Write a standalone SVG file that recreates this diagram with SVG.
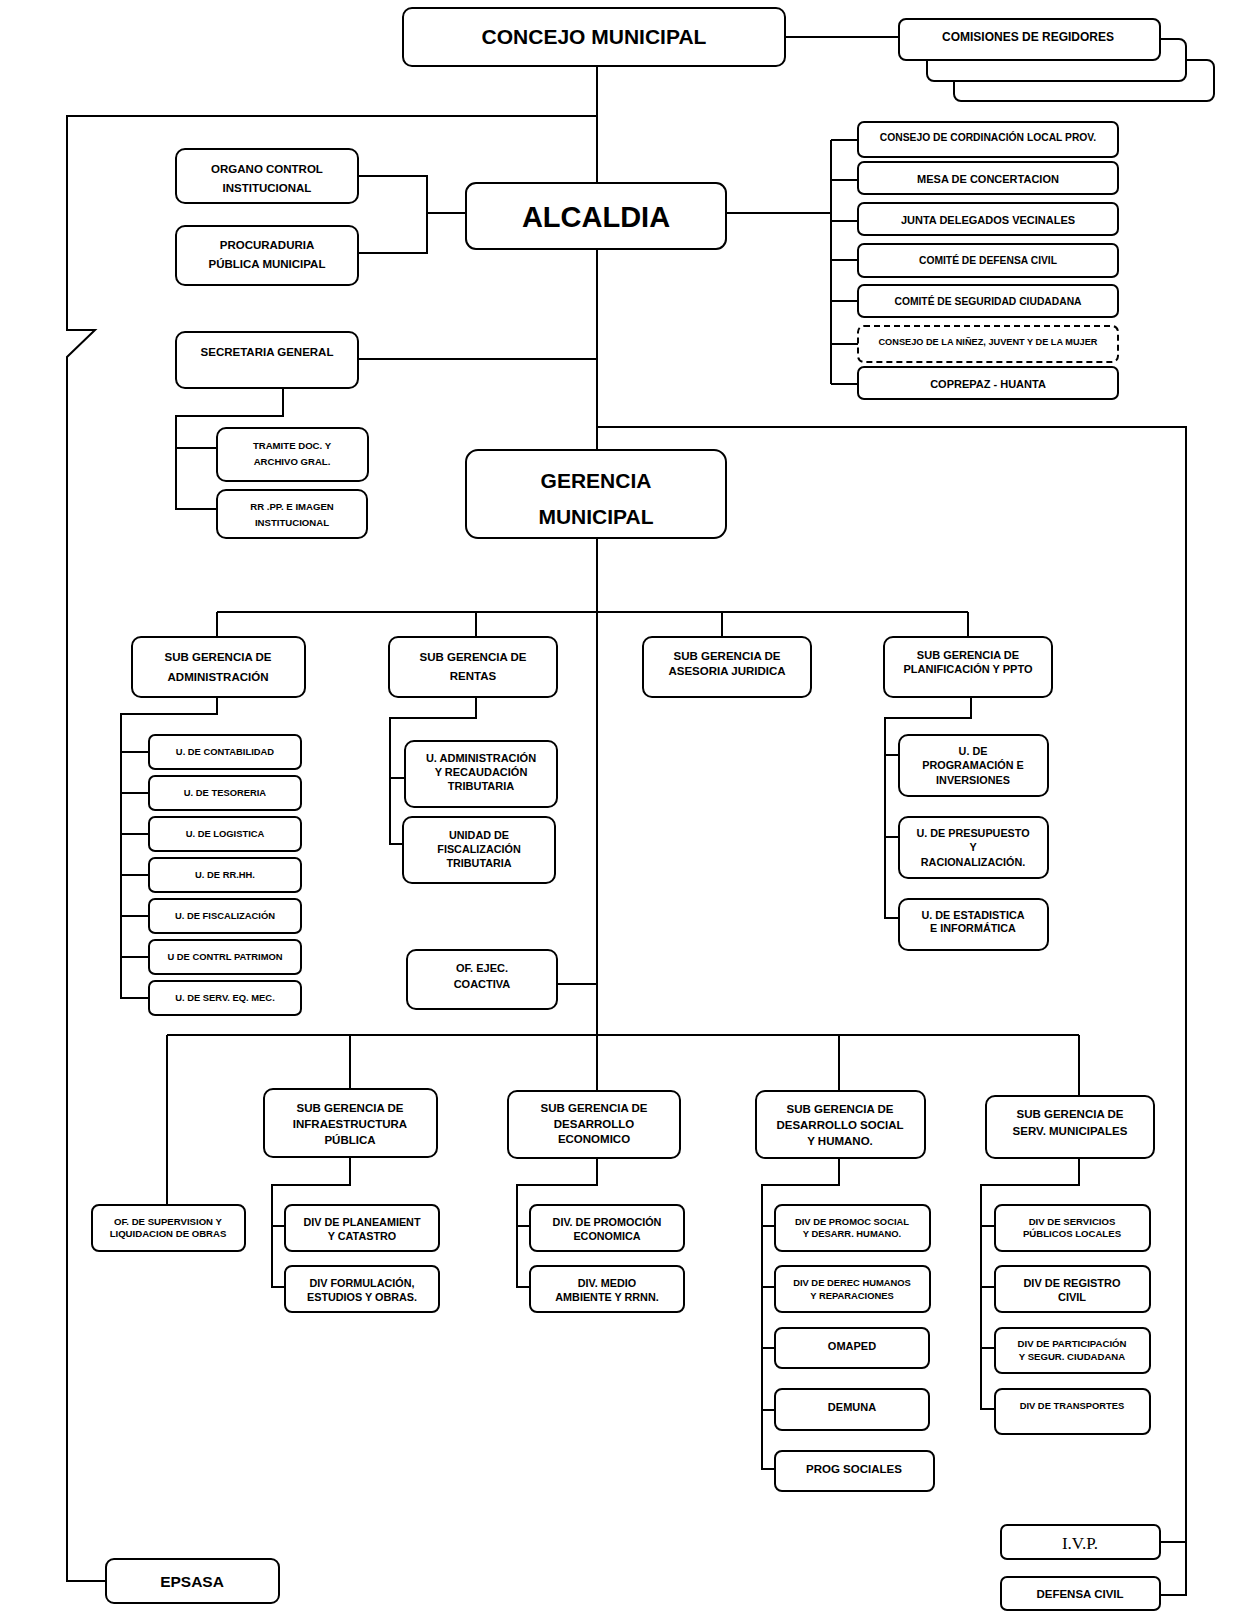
<svg xmlns="http://www.w3.org/2000/svg" width="1237" height="1614" viewBox="0 0 1237 1614">
<style>
rect{fill:#fff;stroke:#000;stroke-width:2}
.dash{stroke-dasharray:6 4}
#connectors path{fill:none;stroke:#000;stroke-width:2}
text{font-family:"Liberation Sans",Arial,sans-serif;font-weight:bold;text-anchor:middle;fill:#000}
.f21{font-size:21px}.f29{font-size:29px}.f22{font-size:21px}.f17{font-size:15.5px}
.f12{font-size:11.5px}.f11{font-size:11px}.f10{font-size:10.8px}.f9{font-size:9.6px}.f8{font-size:9.4px}
.r11{font-size:11px}.r12{font-size:12px}.r105{font-size:10.3px}.r92{font-size:9.2px}
.serif{font-family:"Liberation Serif","Times New Roman",serif;font-weight:normal;font-size:17px}
</style>
<rect x="0" y="0" width="1237" height="1614" style="stroke:none"/>
<g id="connectors">
<path d="M597,66 V183"/>
<path d="M785,37 H899"/>
<path d="M597,116 H67 V330 H95 L67,357 V1581 H106"/>
<path d="M358,176 H427 V253 H358 M427,213 H466"/>
<path d="M726,213 H831 M831,140 V384 M831,140 H858 M831,180 H858 M831,221 H858 M831,260 H858 M831,301 H858 M831,344 H858 M831,384 H858"/>
<path d="M358,359 H597"/>
<path d="M283,388 V416 H176 V509 H217 M176,448 H217"/>
<path d="M597,249 V450"/>
<path d="M597,427 H1186 V1595 H1160 M1186,1542 H1160"/>
<path d="M597,538 V1091"/>
<path d="M217,612 H968 M217,612 V637 M476,612 V637 M722,612 V637 M968,612 V637"/>
<path d="M217,697 V714 H121 V998 H149 M121,752 H149 M121,793 H149 M121,834 H149 M121,875 H149 M121,916 H149 M121,957 H149"/>
<path d="M476,697 V718 H390 V844 H403 M390,778 H405"/>
<path d="M557,984 H597"/>
<path d="M971,697 V718 H885 V918 H899 M885,755 H899 M885,837 H899"/>
<path d="M167,1035 H1079 M167,1035 V1205 M350,1035 V1089 M839,1035 V1091 M1079,1035 V1096"/>
<path d="M350,1157 V1185 H272 V1287 H285 M272,1226 H285"/>
<path d="M597,1158 V1185 H517 V1287 H530 M517,1226 H530"/>
<path d="M839,1158 V1185 H762 V1469 H775 M762,1226 H775 M762,1287 H775 M762,1348 H775 M762,1410 H775"/>
<path d="M1079,1158 V1185 H981 V1409 H995 M981,1226 H995 M981,1287 H995 M981,1348 H995"/>
</g>
<g id="concejo"><rect x="403" y="8" width="382" height="58" rx="9"/><text class="f21" x="594" y="44">CONCEJO MUNICIPAL</text></g>
<g id="comisiones">
<rect x="954" y="60" width="260" height="41" rx="7"/>
<rect x="927" y="39" width="259" height="42" rx="7"/>
<rect x="899" y="19" width="261" height="41" rx="7"/>
<text class="r12" x="1028" y="41">COMISIONES DE REGIDORES</text></g>
<g id="alcaldia"><rect x="466" y="183" width="260" height="66" rx="10"/><text class="f29" x="596" y="227">ALCALDIA</text></g>
<g id="organo"><rect x="176" y="149" width="182" height="54" rx="9"/><text class="f12" x="267" y="173">ORGANO CONTROL</text><text class="f12" x="267" y="192">INSTITUCIONAL</text></g>
<g id="procuraduria"><rect x="176" y="226" width="182" height="59" rx="9"/><text class="f12" x="267" y="249">PROCURADURIA</text><text class="f12" x="267" y="268">PÚBLICA MUNICIPAL</text></g>
<g id="secretaria"><rect x="176" y="332" width="182" height="56" rx="9"/><text class="f12" x="267" y="356">SECRETARIA GENERAL</text></g>
<g id="tramite"><rect x="217" y="428" width="151" height="53" rx="9"/><text class="f9" x="292" y="449">TRAMITE DOC. Y</text><text class="f9" x="292" y="465">ARCHIVO  GRAL.</text></g>
<g id="rrpp"><rect x="217" y="490" width="150" height="48" rx="9"/><text class="f9" x="292" y="510">RR .PP. E IMAGEN</text><text class="f9" x="292" y="526">INSTITUCIONAL</text></g>
<g id="consejo-coord"><rect x="858" y="122" width="260" height="35" rx="6"/><text class="r105" x="988" y="141">CONSEJO DE CORDINACIÓN LOCAL PROV.</text></g>
<g id="mesa"><rect x="858" y="162" width="260" height="32" rx="6"/><text class="r11" x="988" y="183">MESA DE CONCERTACION</text></g>
<g id="junta"><rect x="858" y="203" width="260" height="32" rx="6"/><text class="r11" x="988" y="224">JUNTA DELEGADOS VECINALES</text></g>
<g id="comite-defensa"><rect x="858" y="244" width="260" height="33" rx="6"/><text class="r105" x="988" y="264">COMITÉ DE DEFENSA CIVIL</text></g>
<g id="comite-seguridad"><rect x="858" y="285" width="260" height="32" rx="6"/><text class="r105" x="988" y="305">COMITÉ DE SEGURIDAD CIUDADANA</text></g>
<g id="consejo-ninez"><rect class="dash" x="858" y="326" width="260" height="36" rx="6"/><text class="r92" x="988" y="345">CONSEJO DE LA NIÑEZ, JUVENT Y DE LA MUJER</text></g>
<g id="coprepaz"><rect x="858" y="367" width="260" height="32" rx="6"/><text class="r11" x="988" y="388">COPREPAZ - HUANTA</text></g>
<g id="gerencia"><rect x="466" y="450" width="260" height="88" rx="12"/><text class="f22" x="596" y="488">GERENCIA</text><text class="f22" x="596" y="524">MUNICIPAL</text></g>
<g id="sg-admin"><rect x="132" y="637" width="173" height="60" rx="9"/><text class="f12" x="218" y="661">SUB GERENCIA DE</text><text class="f12" x="218" y="681">ADMINISTRACIÓN</text></g>
<g id="sg-rentas"><rect x="389" y="637" width="168" height="60" rx="9"/><text class="f12" x="473" y="661">SUB GERENCIA DE</text><text class="f12" x="473" y="680">RENTAS</text></g>
<g id="sg-asesoria"><rect x="643" y="637" width="168" height="60" rx="9"/><text class="f12" x="727" y="660">SUB GERENCIA DE</text><text class="f12" x="727" y="675">ASESORIA JURIDICA</text></g>
<g id="sg-planif"><rect x="884" y="637" width="168" height="60" rx="9"/><text class="r11" x="968" y="659">SUB GERENCIA DE</text><text class="r11" x="968" y="673">PLANIFICACIÓN  Y PPTO</text></g>
<g id="u-contabilidad"><rect x="149" y="735" width="152" height="34" rx="6"/><text class="f8" x="225" y="755">U. DE CONTABILIDAD</text></g>
<g id="u-tesoreria"><rect x="149" y="776" width="152" height="34" rx="6"/><text class="f8" x="225" y="796">U. DE TESORERIA</text></g>
<g id="u-logistica"><rect x="149" y="817" width="152" height="34" rx="6"/><text class="f8" x="225" y="837">U. DE LOGISTICA</text></g>
<g id="u-rrhh"><rect x="149" y="858" width="152" height="34" rx="6"/><text class="f8" x="225" y="878">U. DE  RR.HH.</text></g>
<g id="u-fiscalizacion"><rect x="149" y="899" width="152" height="34" rx="6"/><text class="f8" x="225" y="919">U. DE FISCALIZACIÓN</text></g>
<g id="u-patrimon"><rect x="149" y="940" width="152" height="34" rx="6"/><text class="f8" x="225" y="960">U DE CONTRL PATRIMON</text></g>
<g id="u-serv"><rect x="149" y="981" width="152" height="34" rx="6"/><text class="f8" x="225" y="1001">U. DE SERV. EQ. MEC.</text></g>
<g id="u-recaudacion"><rect x="405" y="741" width="152" height="66" rx="9"/><text class="r11" x="481" y="762">U. ADMINISTRACIÓN</text><text class="r11" x="481" y="776">Y RECAUDACIÓN</text><text class="r11" x="481" y="790">TRIBUTARIA</text></g>
<g id="u-fisc-trib"><rect x="403" y="817" width="152" height="66" rx="9"/><text class="f10" x="479" y="839">UNIDAD DE</text><text class="f10" x="479" y="853">FISCALIZACIÓN</text><text class="f10" x="479" y="867">TRIBUTARIA</text></g>
<g id="coactiva"><rect x="407" y="950" width="150" height="59" rx="9"/><text class="f11" x="482" y="972">OF. EJEC.</text><text class="f11" x="482" y="988">COACTIVA</text></g>
<g id="u-programacion"><rect x="899" y="735" width="149" height="61" rx="9"/><text class="f10" x="973" y="755">U. DE</text><text class="f10" x="973" y="769">PROGRAMACIÓN E</text><text class="f10" x="973" y="784">INVERSIONES</text></g>
<g id="u-presupuesto"><rect x="899" y="817" width="149" height="61" rx="9"/><text class="f10" x="973" y="837">U. DE PRESUPUESTO</text><text class="f10" x="973" y="851">Y</text><text class="f10" x="973" y="866">RACIONALIZACIÓN.</text></g>
<g id="u-estadistica"><rect x="899" y="899" width="149" height="51" rx="9"/><text class="f10" x="973" y="919">U. DE ESTADISTICA</text><text class="f10" x="973" y="932">E INFORMÁTICA</text></g>
<g id="of-supervision"><rect x="92" y="1205" width="153" height="46" rx="7"/><text class="f9" x="168" y="1225">OF. DE SUPERVISION  Y</text><text class="f9" x="168" y="1237">LIQUIDACION DE OBRAS</text></g>
<g id="sg-infra"><rect x="264" y="1089" width="173" height="68" rx="9"/><text class="f12" x="350" y="1112">SUB GERENCIA DE</text><text class="f12" x="350" y="1128">INFRAESTRUCTURA</text><text class="f12" x="350" y="1144">PÚBLICA</text></g>
<g id="sg-economico"><rect x="508" y="1091" width="172" height="67" rx="9"/><text class="f12" x="594" y="1112">SUB GERENCIA DE</text><text class="f12" x="594" y="1128">DESARROLLO</text><text class="f12" x="594" y="1143">ECONOMICO</text></g>
<g id="sg-social"><rect x="756" y="1091" width="169" height="67" rx="9"/><text class="f12" x="840" y="1113">SUB GERENCIA DE</text><text class="f12" x="840" y="1129">DESARROLLO SOCIAL</text><text class="f12" x="840" y="1145">Y HUMANO.</text></g>
<g id="sg-servicios"><rect x="986" y="1096" width="168" height="62" rx="9"/><text class="f12" x="1070" y="1118">SUB GERENCIA DE</text><text class="f12" x="1070" y="1135">SERV. MUNICIPALES</text></g>
<g id="div-planeamiento"><rect x="285" y="1205" width="154" height="46" rx="7"/><text class="f10" x="362" y="1226">DIV DE PLANEAMIENT</text><text class="f10" x="362" y="1240">Y CATASTRO</text></g>
<g id="div-formulacion"><rect x="285" y="1266" width="154" height="46" rx="7"/><text class="f10" x="362" y="1287">DIV  FORMULACIÓN,</text><text class="f10" x="362" y="1301">ESTUDIOS Y OBRAS.</text></g>
<g id="div-promocion-eco"><rect x="530" y="1205" width="154" height="46" rx="7"/><text class="f10" x="607" y="1226">DIV. DE PROMOCIÓN</text><text class="f10" x="607" y="1240">ECONOMICA</text></g>
<g id="div-medio"><rect x="530" y="1266" width="154" height="46" rx="7"/><text class="f10" x="607" y="1287">DIV. MEDIO</text><text class="f10" x="607" y="1301">AMBIENTE Y  RRNN.</text></g>
<g id="div-promoc-social"><rect x="775" y="1205" width="155" height="46" rx="7"/><text class="f8" x="852" y="1225">DIV DE PROMOC SOCIAL</text><text class="f8" x="852" y="1237">Y DESARR. HUMANO.</text></g>
<g id="div-derechos"><rect x="775" y="1266" width="155" height="46" rx="7"/><text class="f8" x="852" y="1286">DIV DE DEREC HUMANOS</text><text class="f8" x="852" y="1299">Y REPARACIONES</text></g>
<g id="omaped"><rect x="775" y="1328" width="154" height="40" rx="7"/><text class="f11" x="852" y="1350">OMAPED</text></g>
<g id="demuna"><rect x="775" y="1389" width="154" height="41" rx="7"/><text class="f11" x="852" y="1411">DEMUNA</text></g>
<g id="prog-sociales"><rect x="775" y="1451" width="159" height="40" rx="7"/><text class="f12" x="854" y="1473">PROG  SOCIALES</text></g>
<g id="div-servicios"><rect x="995" y="1205" width="155" height="46" rx="7"/><text class="f9" x="1072" y="1225">DIV DE SERVICIOS</text><text class="f9" x="1072" y="1237">PÚBLICOS LOCALES</text></g>
<g id="div-registro"><rect x="995" y="1266" width="155" height="46" rx="7"/><text class="f11" x="1072" y="1287">DIV DE REGISTRO</text><text class="f11" x="1072" y="1301">CIVIL</text></g>
<g id="div-participacion"><rect x="995" y="1328" width="155" height="45" rx="7"/><text class="f9" x="1072" y="1347">DIV DE PARTICIPACIÓN</text><text class="f9" x="1072" y="1360">Y  SEGUR.  CIUDADANA</text></g>
<g id="div-transportes"><rect x="995" y="1389" width="155" height="45" rx="7"/><text class="f8" x="1072" y="1409">DIV DE TRANSPORTES</text></g>
<g id="epsasa"><rect x="106" y="1559" width="173" height="44" rx="8"/><text class="f17" x="192" y="1587">EPSASA</text></g>
<g id="ivp"><rect x="1001" y="1525" width="159" height="34" rx="6"/><text class="serif" x="1080" y="1549">I.V.P.</text></g>
<g id="defensa-civil"><rect x="1001" y="1577" width="159" height="33" rx="6"/><text class="f12" x="1080" y="1598">DEFENSA CIVIL</text></g>
</svg>
